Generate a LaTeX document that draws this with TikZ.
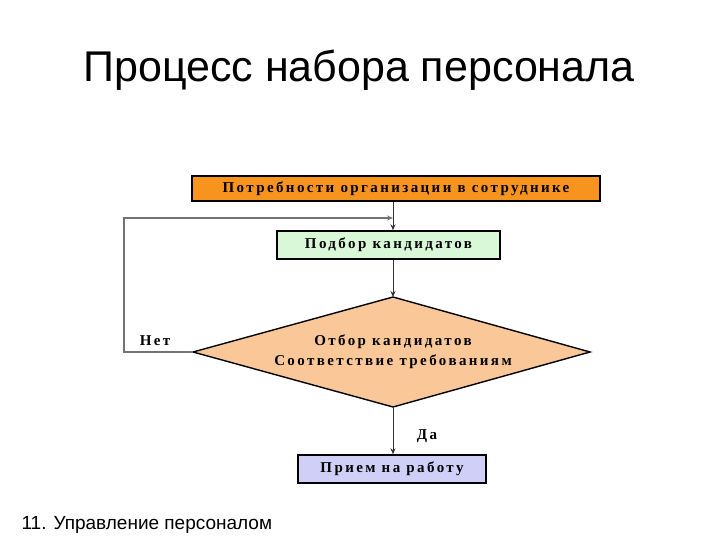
\documentclass[tikz,border=0pt]{standalone}
\usepackage{fontspec}
\setmainfont{Liberation Sans}
\newfontfamily\boxfont[LetterSpace=16]{Liberation Serif}
\usetikzlibrary{arrows.meta}
\definecolor{orangebox}{HTML}{F7941D}
\definecolor{greenbox}{HTML}{D8F8D8}
\definecolor{diam}{HTML}{FAC898}
\definecolor{bluebox}{HTML}{CFCFF7}
\begin{document}
\begin{tikzpicture}[x=1pt,y=-1pt,
  bx/.style={draw=black,line width=1.4pt,inner sep=0pt,font=\boxfont\bfseries\fontsize{15}{17}\selectfont},
  conn/.style={draw=black!80,line width=1pt,-{Stealth[length=6pt,width=5pt]}},
  lbl/.style={font=\boxfont\bfseries\fontsize{15}{20}\selectfont}]
\useasboundingbox[fill=white] (0,0) rectangle (720,540);
\node (title) at (359,70) {\fontsize{43}{48}\selectfont Процесс набора персонала};
\node[anchor=west] (foot) at (18,525) {\fontsize{19}{22}\selectfont 11. Управление персоналом};
\node[bx,fill=orangebox,minimum width=408pt,minimum height=25pt] (need) at (396,188.5) {Потребности организации в сотруднике};
\node[bx,fill=greenbox,minimum width=223pt,minimum height=28pt] (pick) at (388.5,245) {Подбор кандидатов};
\draw[line width=1.4pt,fill=diam] (393,297) coordinate (dt) -- (590,352) coordinate (dr) -- (393,407) coordinate (db) -- (193,352) coordinate (dl) -- cycle;
\node[lbl,align=center] (sel) at (393,352) {Отбор кандидатов\\Соответствие требованиям};
\node[bx,fill=bluebox,minimum width=188pt,minimum height=28pt] (hire) at (392,469) {Прием на работу};
\coordinate (j) at (393,218);
\coordinate (c1) at (124,352);
\coordinate (c2) at (124,218);
\draw[conn] (need.south -| j) -- (pick.north -| j);
\draw[conn] (pick.south -| j) -- (dt);
\draw[conn] (db) -- (hire.north -| db);
\draw[conn,draw=black!55,line width=1.3pt] (dl) -- (c1) -- (c2) -- (j);
\node[lbl] (no) at (155,341) {Нет};
\node[lbl] (yes) at (427,436) {Да};
\end{tikzpicture}
\end{document}
